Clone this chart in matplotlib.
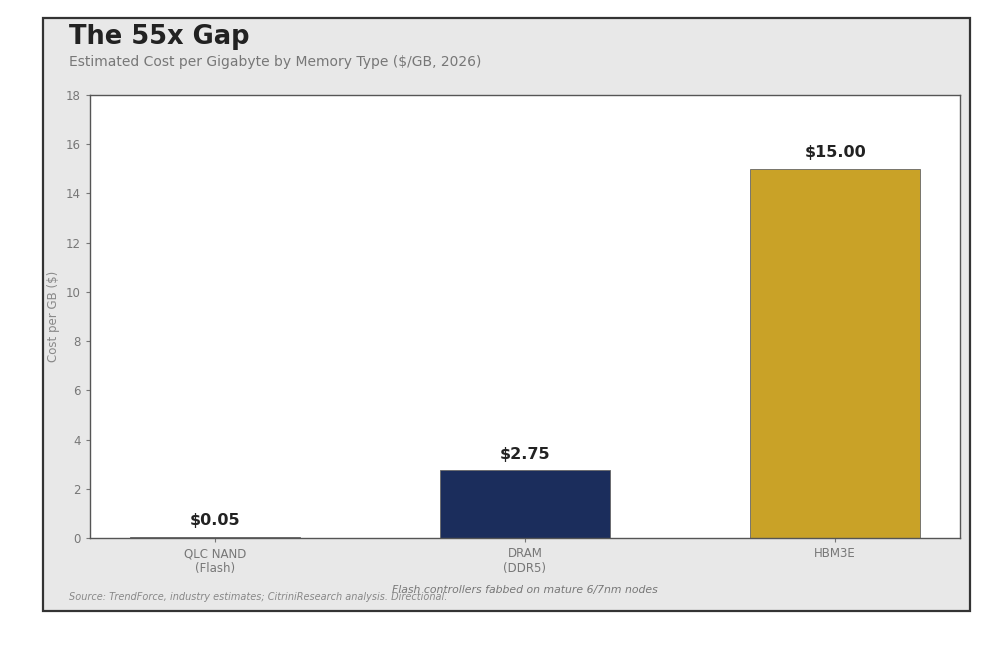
import matplotlib.pyplot as plt
from matplotlib.patches import Rectangle

categories = ["QLC NAND\n(Flash)", "DRAM\n(DDR5)", "HBM3E"]
cost_per_gb = [0.05, 2.75, 15.00]
value_labels = ["$0.05", "$2.75", "$15.00"]
bar_colors = ["#4a4a4a", "#1b2d5c", "#c9a227"]
yticks = [0, 2, 4, 6, 8, 10, 12, 14, 16, 18]

fig = plt.figure(figsize=(10, 6.55), dpi=100, facecolor="white")

# gray panel behind everything
panel = Rectangle((0.043, 1 - 611 / 655), 0.927, (611 - 18) / 655,
                  transform=fig.transFigure, facecolor="#e8e8e8",
                  edgecolor="#333333", linewidth=1.6, zorder=-10)
fig.patches.append(panel)

ax = fig.add_axes([0.09, 1 - 538 / 655, 0.87, (538 - 95) / 655])
ax.set_facecolor("white")

x = range(len(categories))
ax.bar(x, cost_per_gb, width=0.55, color=bar_colors, edgecolor="#666666", linewidth=0.6)

for xi, v, lab in zip(x, cost_per_gb, value_labels):
    ax.text(xi, v + 0.35, lab, ha="center", va="bottom", fontsize=11.5,
            fontweight="bold", color="#222222")

ax.set_ylim(0, 18)
ax.set_yticks(yticks)
ax.set_xticks(list(x))
ax.set_xticklabels(categories)
ax.tick_params(axis="both", labelsize=8.5, colors="#777777", length=3)
ax.set_ylabel("Cost per GB ($)", fontsize=8.5, color="#888888")
for s in ax.spines.values():
    s.set_color("#555555")
    s.set_linewidth(1.0)

fig.text(0.069, 1 - 37 / 655, "The 55x Gap", fontsize=18.5, fontweight="bold",
         color="#222222", va="center", ha="left")
fig.text(0.069, 1 - 62 / 655, "Estimated Cost per Gigabyte by Memory Type ($/GB, 2026)",
         fontsize=10, color="#777777", va="center", ha="left")
fig.text(0.525, 1 - 590 / 655, "Flash controllers fabbed on mature 6/7nm nodes",
         fontsize=7.8, style="italic", color="#777777", va="center", ha="center")
fig.text(0.069, 1 - 597 / 655,
         "Source: TrendForce, industry estimates; CitriniResearch analysis. Directional.",
         fontsize=7, style="italic", color="#888888", va="center", ha="left")

fig.savefig("out.png", dpi=100, facecolor="white")
